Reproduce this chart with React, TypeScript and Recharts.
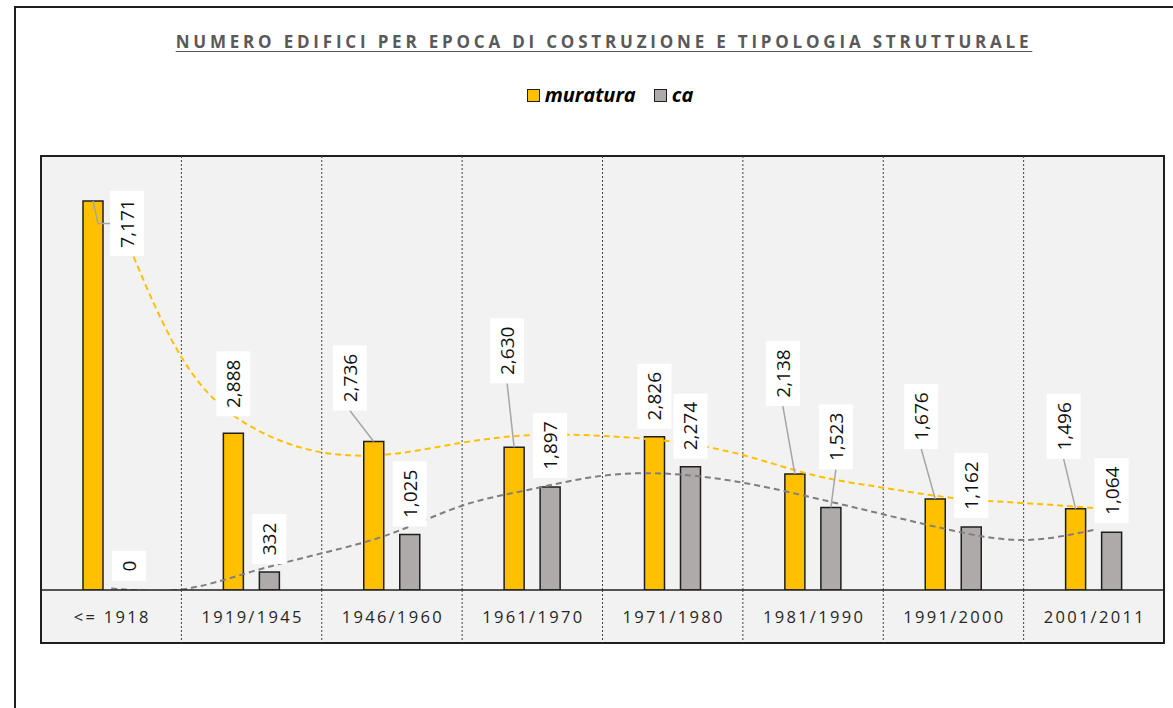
import React from 'react';
import { ComposedChart, Bar, Line, XAxis, YAxis, CartesianGrid, LabelList, Rectangle } from 'recharts';

// dati
const CATEGORIES = ['<= 1918', '1919/1945', '1946/1960', '1961/1970', '1971/1980', '1981/1990', '1991/2000', '2001/2011'];
const MURATURA = [7171, 2888, 2736, 2630, 2826, 2138, 1676, 1496];
const CA = [0, 332, 1025, 1897, 2274, 1523, 1162, 1064];

// linee di tendenza (posizione in categorie: centro della i-esima = i + 0.5)
const TREND_POS = [0.5, 1, 1.5, 2, 2.5, 3, 3.5, 4, 4.5, 5, 5.5, 6, 6.5, 7, 7.5];
const TREND_MURATURA = [7170, 4295, 3005, 2538, 2507, 2715, 2857, 2840, 2734, 2488, 2120, 1886, 1695, 1603, 1510];
const TREND_CA = [30, 10, 338, 676, 1045, 1554, 1862, 2107, 2138, 1978, 1702, 1395, 1093, 922, 1106];

// spostamento etichette [dx, distanza dalla cima della barra]
const SHIFT_MURATURA = [[34, -55], [0, 17], [-24, 31], [-7, 64], [0, 8], [-12, 68], [-14, 50], [-12, 50]];
const SHIFT_CA = [[0, 9], [0, 8], [0, 8], [0, 9], [0, 8], [5, 38], [0, 9], [0, 9]];

const W = 1173;
const H = 708;
const PLOT_LEFT = 41;
const PLOT_RIGHT = 1164;
const PLOT_TOP = 156;
const AXIS_Y = 590;
const PLOT_BOTTOM = 643;
const BAND = (PLOT_RIGHT - PLOT_LEFT) / CATEGORIES.length;

const YELLOW = '#FFC000';
const GREY = '#AEAAAA';
const DARK = '#1f1f1f';

const chartData = CATEGORIES.map((c, i) => ({ cat: c, muratura: MURATURA[i], ca: CA[i] }));
const trendM = TREND_POS.map((u, i) => ({ u, v: TREND_MURATURA[i] }));
const trendC = TREND_POS.map((u, i) => ({ u, v: TREND_CA[i] }));
const separators = CATEGORIES.slice(1).map((_, i) => PLOT_LEFT + (i + 1) * BAND);

const makeLabel = (shifts: number[][]) => (props: any) => {
  const { x, y, width, height, value, index } = props;
  const [dx, lift] = shifts[index] || [0, 8];
  const cx = Number(x) + Number(width) / 2;
  // per valori nulli la barra ha altezza minima: si parte dall'asse
  const top = Number(value) === 0 ? Number(y) + Number(height) : Number(y);
  const text = Number(value).toLocaleString('en-US');
  const digits = text.replace(/,/g, '').length;
  const h = 20 + digits * 10 + (text.includes(',') ? 5 : 0);
  const w = 34;
  const bx = cx + dx;
  const bottom = top - lift;
  const boxTop = bottom - h;
  const mid = boxTop + h / 2;
  let leader = null;
  if (lift < 0) {
    leader = <polyline points={`${cx},${top} ${cx + 5},${mid} ${bx - w / 2},${mid}`} fill="none" stroke="#A6A6A6" strokeWidth={1.5} />;
  } else if (dx !== 0 || lift > 25) {
    leader = <line x1={bx} y1={bottom} x2={cx} y2={top} stroke="#A6A6A6" strokeWidth={1.5} />;
  }
  return (
    <g>
      {leader}
      <rect x={bx - w / 2} y={boxTop} width={w} height={h} fill="#fff" />
      <text
        x={bx}
        y={mid}
        transform={`rotate(-90 ${bx} ${mid})`}
        textAnchor="middle"
        dominantBaseline="central"
        fontFamily="'Open Sans', sans-serif"
        fontSize={19}
        fill="#111"
      >
        {text}
      </text>
    </g>
  );
};

// barra vuota per i valori nulli (resta solo l'etichetta)
const CaShape = (props: any) => {
  if (props.payload && props.payload.ca === 0) return <g />;
  return <Rectangle {...props} />;
};

const CategoryTick = (props: any) => {
  const { x, payload, index } = props;
  return (
    <g>
      <text
        x={x + 1}
        y={AXIS_Y + 26}
        textAnchor="middle"
        dominantBaseline="central"
        fontFamily="'Open Sans', sans-serif"
        fontSize={16.5}
        letterSpacing={2.3}
        fill="#262626"
      >
        {payload.value}
      </text>
      {index < CATEGORIES.length - 1 && (
        <line
          x1={x + BAND / 2}
          x2={x + BAND / 2}
          y1={AXIS_Y}
          y2={PLOT_BOTTOM}
          stroke="#404040"
          strokeWidth={1}
          strokeDasharray="2 2"
        />
      )}
    </g>
  );
};

const LegendSwatch = ({ color }: { color: string }) => (
  <span
    style={{
      display: 'inline-block',
      width: 13,
      height: 13,
      background: color,
      border: `1.5px solid ${DARK}`,
      boxSizing: 'border-box',
      marginRight: 5,
      verticalAlign: 'middle',
      position: 'relative',
      top: -1,
    }}
  />
);

export default function App() {
  return (
    <div style={{ position: 'fixed', left: 0, top: 0, width: W, height: H, overflow: 'hidden', background: '#fff' }}>
      {/* cornice esterna */}
      <div
        style={{
          position: 'absolute',
          left: 14,
          top: 6,
          width: 1190,
          height: 730,
          border: `2px solid ${DARK}`,
          boxSizing: 'border-box',
        }}
      />
      {/* titolo */}
      <div
        style={{
          position: 'absolute',
          left: 15,
          width: 1178,
          top: 30,
          textAlign: 'center',
          fontFamily: "'Open Sans', sans-serif",
          fontWeight: 700,
          fontSize: 17,
          letterSpacing: 3.8,
          color: '#595959',
          textDecoration: 'underline',
          textUnderlineOffset: 3,
        }}
      >
        NUMERO EDIFICI PER EPOCA DI COSTRUZIONE E TIPOLOGIA STRUTTURALE
      </div>
      {/* legenda */}
      <div
        style={{
          position: 'absolute',
          left: 15,
          width: 1190,
          top: 81,
          textAlign: 'center',
          fontFamily: "'Open Sans', sans-serif",
          fontWeight: 700,
          fontStyle: 'italic',
          fontSize: 20,
          color: '#000',
        }}
      >
        <LegendSwatch color={YELLOW} />
        <span style={{ marginRight: 18 }}>muratura</span>
        <LegendSwatch color={GREY} />
        <span>ca</span>
      </div>
      {/* area del grafico */}
      <div
        style={{
          position: 'absolute',
          left: PLOT_LEFT - 1,
          top: PLOT_TOP - 1,
          width: PLOT_RIGHT - PLOT_LEFT + 2,
          height: PLOT_BOTTOM - PLOT_TOP + 2,
          background: '#F2F2F2',
          border: `2px solid ${DARK}`,
          boxSizing: 'border-box',
        }}
      />
      <div style={{ position: 'absolute', left: 0, top: 0 }}>
        <ComposedChart
          width={W}
          height={H}
          data={chartData}
          margin={{ top: PLOT_TOP, left: PLOT_LEFT, right: W - PLOT_RIGHT, bottom: H - PLOT_BOTTOM }}
          barSize={20}
          barGap={16}
        >
          <CartesianGrid horizontal={false} verticalPoints={separators} stroke="#404040" strokeDasharray="2 2" />
          <XAxis
            dataKey="cat"
            height={PLOT_BOTTOM - AXIS_Y}
            tickLine={false}
            axisLine={{ stroke: DARK, strokeWidth: 1.5 }}
            tick={<CategoryTick />}
            interval={0}
          />
          <XAxis xAxisId="t" dataKey="u" type="number" domain={[0, CATEGORIES.length]} hide allowDataOverflow />
          <YAxis domain={[0, 8000]} hide allowDataOverflow />
          <Bar dataKey="muratura" fill={YELLOW} stroke={DARK} strokeWidth={1.5} isAnimationActive={false}>
            <LabelList dataKey="muratura" content={makeLabel(SHIFT_MURATURA)} />
          </Bar>
          <Bar
            dataKey="ca"
            fill={GREY}
            stroke={DARK}
            strokeWidth={1.5}
            minPointSize={1}
            shape={CaShape}
            isAnimationActive={false}
          >
            <LabelList dataKey="ca" content={makeLabel(SHIFT_CA)} />
          </Bar>
          <Line
            xAxisId="t"
            data={trendM}
            dataKey="v"
            type="natural"
            stroke={YELLOW}
            strokeWidth={2}
            strokeDasharray="6 4"
            dot={false}
            activeDot={false}
            isAnimationActive={false}
          />
          <Line
            xAxisId="t"
            data={trendC}
            dataKey="v"
            type="natural"
            stroke="#7F7F7F"
            strokeWidth={2}
            strokeDasharray="6 4"
            dot={false}
            activeDot={false}
            isAnimationActive={false}
          />
        </ComposedChart>
      </div>
    </div>
  );
}
